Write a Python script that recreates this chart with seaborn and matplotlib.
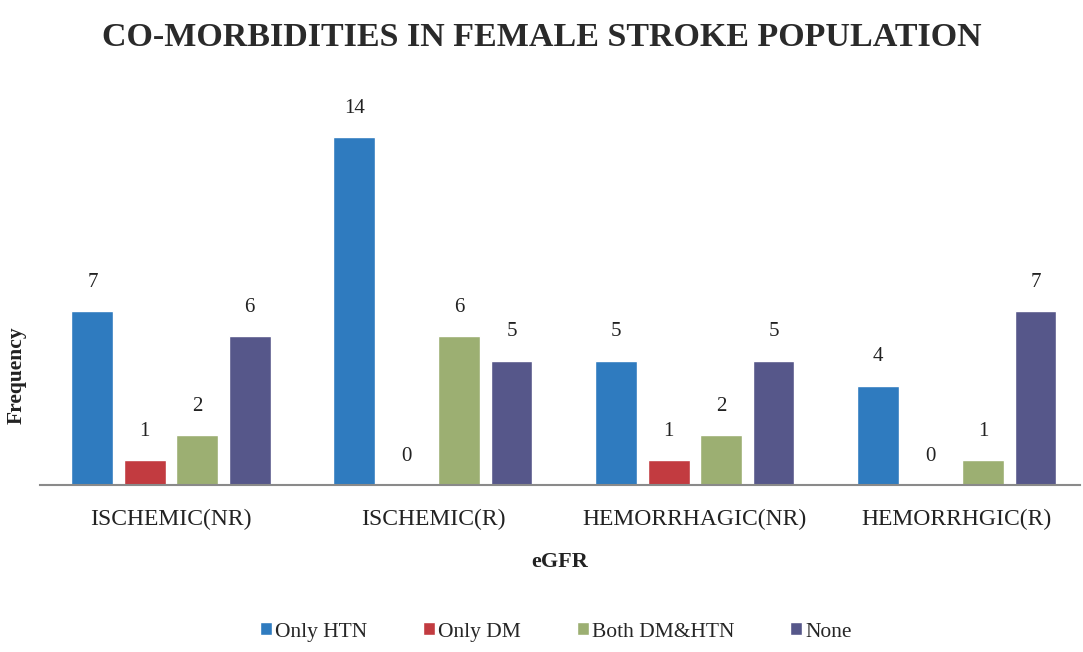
import matplotlib
matplotlib.use("Agg")
import matplotlib.pyplot as plt
import seaborn as sns
import pandas as pd

categories = ["ISCHEMIC(NR)", "ISCHEMIC(R)", "HEMORRHAGIC(NR)", "HEMORRHGIC(R)"]
series_names = ["Only HTN", "Only DM", "Both DM&HTN", "None"]
only_htn = [7, 14, 5, 4]
only_dm = [1, 0, 1, 0]
both_dm_htn = [2, 6, 2, 1]
none_vals = [6, 5, 5, 7]
colors = ["#2f7bbf", "#c23b40", "#9caf72", "#56578a"]

rows = []
for s, vals in zip(series_names, [only_htn, only_dm, both_dm_htn, none_vals]):
    for c, v in zip(categories, vals):
        rows.append({"eGFR": c, "Series": s, "Frequency": v})
df = pd.DataFrame(rows)

sns.set_style("white")
plt.rcParams["font.family"] = ["Liberation Serif", "DejaVu Serif"]

fig = plt.figure(figsize=(10.83, 6.52), dpi=100)
ax = fig.add_axes([40/1083, 1 - 485/652, 1040/1083, (485 - 100)/652])

sns.barplot(data=df, x="eGFR", y="Frequency", hue="Series", order=categories,
            hue_order=series_names, palette=colors, width=0.8, gap=0.2,
            saturation=1, ax=ax, legend=True)

for cont in ax.containers:
    ax.bar_label(cont, labels=[f"{int(v)}" for v in cont.datavalues],
                 padding=14, fontsize=15, color="#222222")

ax.set_xlim(-0.5, 3.47)
ax.set_ylim(0, 15.5)
ax.set_yticks([])
for sp in ["top", "right", "left"]:
    ax.spines[sp].set_visible(False)
ax.spines["bottom"].set_color("#8a8a8a")
ax.spines["bottom"].set_linewidth(1.5)
ax.tick_params(axis="x", length=0, pad=17, labelsize=17, labelcolor="#222222")
ax.set_xlabel("eGFR", fontsize=16, fontweight="bold", labelpad=16, color="#222222")
ax.set_ylabel("")
fig.text(17/1083, 1 - 375/652, "Frequency", rotation=90, fontsize=15.5,
         fontweight="bold", ha="center", va="center", color="#222222")

fig.suptitle("CO-MORBIDITIES IN FEMALE STROKE POPULATION", fontsize=24.5,
             fontweight="bold", y=1 - 37/652, va="center", color="#2a2a2a")

handles, labels = ax.get_legend_handles_labels()
ax.legend_.remove()
fig.legend(handles, labels, loc="center", bbox_to_anchor=(556/1083, 1 - 632/652),
           ncol=4, frameon=False, fontsize=15.5, handlelength=0.55, handleheight=0.55,
           handletextpad=0.15, columnspacing=2.6)

fig.savefig("out.png", dpi=100, facecolor="white")
